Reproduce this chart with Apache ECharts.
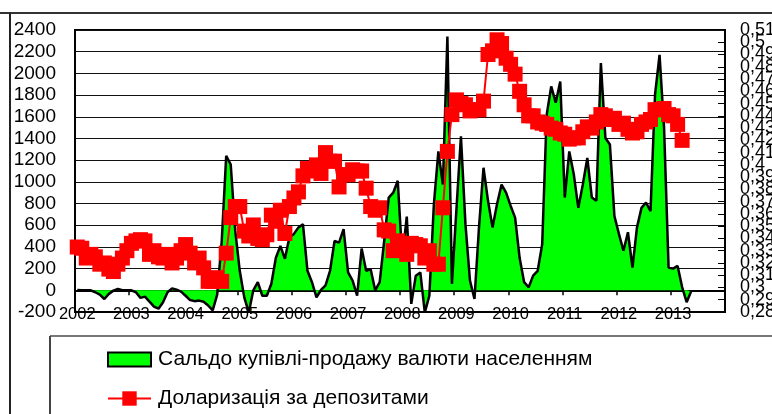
<!DOCTYPE html>
<html><head><meta charset="utf-8">
<script src="https://cdn.jsdelivr.net/npm/echarts@6/dist/echarts.min.js"></script>
<style>html,body{margin:0;padding:0;background:#fff}#c{width:772px;height:414px}</style>
</head><body><div id="c"></div>
<script>
// Year tick labels (monthly data from Jan 2002)
const years = ['2002','2003','2004','2005','2006','2007','2008','2009','2010','2011','2012','2013'];
// Сальдо купівлі-продажу валюти населенням (left axis), monthly from 2002-01
const saldo = [
  3, 0, 0, 0, -18, -40, -80, -33, -3, 12, 0, 0,
  0, -18, -70, -58, -105, -150, -170, -110, -18, 18, 6, -12,
  -50, -90, -100, -95, -105, -140, -185, -40, 450, 1240, 1160, 550,
  180, -65, -205, 0, 75, -50, -50, 60, 300, 410, 290, 490,
  520, 580, 610, 180, 75, -65, 3, 45, 180, 455, 440, 565,
  165, 90, -50, 385, 180, 195, 0, 75, 455, 855, 900, 1010,
  300, 680, -125, 135, 165, -205, -50, 790, 1280, 975, 2340, 60,
  745, 1420, 610, 90, -80, 580, 1130, 825, 580, 795, 975, 900,
  780, 670, 300, 75, 28, 135, 180, 425, 1620, 1880, 1730, 1925,
  855, 1280, 1070, 760, 975, 1220, 855, 825, 2095, 1405, 1345, 685,
  520, 365, 535, 210, 580, 760, 810, 730, 1805, 2170, 1500, 210,
  200, 225, 30, -110, -10
];
// Доларизація за депозитами (right axis), monthly from 2002-01
const dollarization = [
  0.333, 0.332, 0.324, 0.327, 0.325, 0.319, 0.320, 0.315, 0.313, 0.319, 0.324, 0.330,
  0.336, 0.338, 0.339, 0.338, 0.327, 0.330, 0.325, 0.324, 0.327, 0.320, 0.324, 0.330,
  0.335, 0.328, 0.320, 0.324, 0.316, 0.305, 0.305, 0.308, 0.305, 0.328, 0.357, 0.366,
  0.366, 0.346, 0.342, 0.351, 0.340, 0.339, 0.343, 0.359, 0.354, 0.363, 0.344, 0.366,
  0.373, 0.378, 0.391, 0.397, 0.395, 0.400, 0.393, 0.410, 0.403, 0.403, 0.382, 0.392,
  0.392, 0.396, 0.395, 0.395, 0.381, 0.366, 0.363, 0.365, 0.347, 0.346, 0.330, 0.338,
  0.334, 0.327, 0.336, 0.335, 0.334, 0.324, 0.330, 0.319, 0.319, 0.365, 0.411, 0.441,
  0.453, 0.450, 0.449, 0.444, 0.445, 0.445, 0.452, 0.490, 0.493, 0.502, 0.499, 0.487,
  0.482, 0.474, 0.460, 0.449, 0.440, 0.440, 0.435, 0.434, 0.433, 0.430, 0.429, 0.426,
  0.425, 0.421, 0.422, 0.422, 0.427, 0.431, 0.430, 0.435, 0.441, 0.440, 0.437, 0.438,
  0.433, 0.434, 0.429, 0.426, 0.427, 0.433, 0.435, 0.437, 0.445, 0.445, 0.446, 0.441,
  0.440, 0.433, 0.420
];
const seriesNames = ['Сальдо купівлі-продажу валюти населенням', 'Доларизація за депозитами'];
const rightMin = 0.28, rightMax = 0.51;

const months = [];
years.forEach(y => { for (let m = 1; m <= 12; m++) months.push(y + '-' + (m < 10 ? '0' + m : m)); });

const FONT = 'Liberation Sans, Arial, sans-serif';
const fmtComma = v => String(+(+v).toFixed(2)).replace('.', ',');
const chart = echarts.init(document.getElementById('c'), null, {renderer: 'canvas'});
const xBase = {
  type: 'category', data: months, boundaryGap: true,
  splitLine: {show: false}
};
const rightLabel = {color: '#000', fontFamily: FONT, fontSize: 18, margin: 15, hideOverlap: false};
chart.setOption({
  animation: false,
  backgroundColor: '#fff',
  grid: {left: 75, right: 47, top: 30, bottom: 102, containLabel: false, outerBoundsMode: 'none',
         show: true, borderColor: '#000', borderWidth: 2, backgroundColor: 'transparent'},
  xAxis: [
    Object.assign({}, xBase, {
      position: 'bottom',
      axisLine: {onZero: true, onZeroAxisIndex: 0, lineStyle: {color: '#000', width: 2}},
      axisTick: {show: true, interval: 11, length: 5, inside: false, lineStyle: {color: '#000', width: 1.5}},
      axisLabel: {show: false}
    }),
    Object.assign({}, xBase, {
      position: 'bottom',
      axisLine: {onZero: false, lineStyle: {color: '#000', width: 2}},
      axisTick: {show: false},
      axisLabel: {show: true, interval: 11, margin: -6, color: '#000', fontFamily: FONT, fontSize: 16.5,
        formatter: v => v.slice(0, 4)}
    })
  ],
  yAxis: [
    {type: 'value', min: -200, max: 2400, interval: 200, position: 'left',
     axisLine: {show: true, lineStyle: {color: '#000', width: 2}},
     axisTick: {show: false},
     axisLabel: {color: '#000', fontFamily: FONT, fontSize: 19, margin: 19, formatter: v => String(v)},
     splitLine: {show: true, lineStyle: {color: '#111', width: 1}}},
    {type: 'value', min: rightMin, max: rightMax, interval: 0.01, position: 'right',
     axisLine: {show: true, lineStyle: {color: '#000', width: 2}},
     axisTick: {show: true, inside: true, length: 7, lineStyle: {color: '#000', width: 1}},
     axisLabel: Object.assign({}, rightLabel, {formatter: fmtComma}),
     splitLine: {show: false}},
    {type: 'value', min: rightMin, max: rightMax, interval: 0.01, position: 'right',
     axisLine: {show: false}, axisTick: {show: false}, splitLine: {show: false},
     axisLabel: Object.assign({}, rightLabel, {showMinLabel: true, showMaxLabel: true,
       formatter: v => (Math.abs(v - rightMin) < 1e-6 || Math.abs(v - rightMax) < 1e-6) ? fmtComma(v) : ''})}
  ],
  legend: [
    {data: [{name: seriesNames[0], icon: 'rect', itemStyle: {color: '#00ff00', borderColor: '#000', borderWidth: 2}}],
     left: 107, top: 349, padding: 0, itemWidth: 43, itemHeight: 14, itemGap: 6,
     textStyle: {color: '#000', fontFamily: FONT, fontSize: 21, padding: [0, 0, 0, 2]}},
    {data: [seriesNames[1]],
     left: 107, top: 388, padding: 0, itemWidth: 43, itemHeight: 18,
     textStyle: {color: '#000', fontFamily: FONT, fontSize: 21, padding: [0, 0, 0, 2]}}
  ],
  graphic: [
    {type: 'line', shape: {x1: 0, y1: 13, x2: 772, y2: 13}, style: {stroke: '#333', lineWidth: 2}, silent: true},
    {type: 'line', shape: {x1: 10, y1: 13, x2: 10, y2: 414}, style: {stroke: '#222', lineWidth: 2}, silent: true},
    {type: 'line', shape: {x1: 50, y1: 336, x2: 772, y2: 336}, style: {stroke: '#777', lineWidth: 2}, silent: true},
    {type: 'line', shape: {x1: 50, y1: 336, x2: 50, y2: 414}, style: {stroke: '#444', lineWidth: 2}, silent: true}
  ],
  series: [
    {name: seriesNames[0], type: 'line', xAxisIndex: 0, yAxisIndex: 0, data: saldo,
     symbol: 'none', clip: false,
     lineStyle: {color: '#000', width: 2.5},
     itemStyle: {color: '#00ff00'},
     areaStyle: {color: '#00ff00', opacity: 1, origin: 0}, z: 2},
    {name: seriesNames[1], type: 'line', xAxisIndex: 0, yAxisIndex: 1, data: dollarization,
     symbol: 'rect', symbolSize: 15, showAllSymbol: true,
     lineStyle: {color: '#ff0000', width: 2},
     itemStyle: {color: '#ff0000'}, z: 3}
  ]
});
</script></body></html>
